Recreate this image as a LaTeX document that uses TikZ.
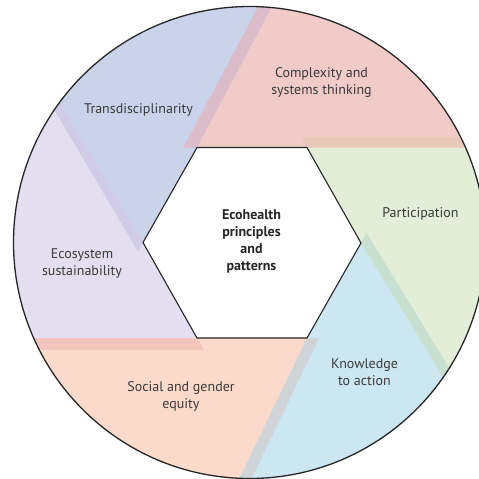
\documentclass[tikz,border=0pt]{standalone}
\usepackage{fontspec}
\setmainfont{PT Sans}
\usetikzlibrary{calc}

% sector colours
\definecolor{cxpink}{HTML}{F0CBC8}
\definecolor{partgreen}{HTML}{E2EED8}
\definecolor{knowblue}{HTML}{CDE7F2}
\definecolor{socpeach}{HTML}{FBDACB}
\definecolor{ecolav}{HTML}{E4DFF0}
\definecolor{transblue}{HTML}{C9D3EA}
% overlap strips
\definecolor{stripA}{HTML}{E8C8B9}
\definecolor{stripB}{HTML}{C8E0CF}
\definecolor{stripC}{HTML}{CFD4D8}
\definecolor{stripD}{HTML}{F2C6BC}
\definecolor{stripE}{HTML}{D0CCE7}
\definecolor{stripF}{HTML}{DCBCC8}
\definecolor{labelgrey}{HTML}{3A3A3A}

\begin{document}
\begin{tikzpicture}[x=0.5pt,y=-0.5pt,
  sectorlabel/.style={font=\fontsize{7}{8.5}\selectfont, text=labelgrey, align=center, inner sep=0pt},
  centrelabel/.style={font=\bfseries\fontsize{7}{8.4}\selectfont, text=black!85, align=center, inner sep=0pt},
  outline/.style={draw=black!85, line width=0.55pt}]
\useasboundingbox (0,0) rectangle (479,479);

% hexagon corners
\coordinate (TL) at (197,147.5);
\coordinate (TR) at (307,147.5);
\coordinate (R)  at (361,243);
\coordinate (BR) at (307,338);
\coordinate (BL) at (197,338);
\coordinate (L)  at (143,242.5);
\coordinate (O)  at (249.5,242.5);

% far ends of the dividing lines
\coordinate (Afar) at (607,147.5);
\coordinate (Bfar) at (517.8,498.8);
\coordinate (Cfar) at (176.9,608.3);
\coordinate (Dfar) at (-103,338);
\coordinate (Efar) at (-9.3,-16);
\coordinate (Ffar) at (337.8,-117.4);

\begin{scope}
  \clip (O) circle [radius=118pt];
  % sectors
  \fill[cxpink]    (TL) -- (Ffar) -- (549.5,-277.1) -- (Afar) -- (TR) -- cycle;
  \fill[partgreen] (TR) -- (Afar) -- (840.4,346.7) -- (Bfar) -- (R) -- cycle;
  \fill[knowblue]  (R) -- (Bfar) -- (549.5,762.1) -- (Cfar) -- (BR) -- cycle;
  \fill[socpeach]  (BR) -- (Cfar) -- (-50.5,762.1) -- (Dfar) -- (BL) -- cycle;
  \fill[ecolav]    (BL) -- (Dfar) -- (-341.4,138.3) -- (Efar) -- (L) -- cycle;
  \fill[transblue] (L) -- (Efar) -- (-50.5,-277.1) -- (Ffar) -- (TL) -- cycle;
  % overlap strips along each dividing line
  \fill[stripA] (TR) -- (Afar) -- (607,137) -- (301.1,137) -- cycle;
  \fill[stripB] (R) -- (Bfar) -- (526.3,493.6) -- (366.6,233.1) -- cycle;
  \fill[stripC] (BR) -- (Cfar) -- (186.8,613.1) -- (319.2,338) -- cycle;
  \fill[stripD] (BL) -- (Dfar) -- (-103,350) -- (203.8,350) -- cycle;
  \fill[stripE] (L) -- (Efar) -- (-17.1,-11.4) -- (137.9,251.5) -- cycle;
  \fill[stripF] (TL) -- (Ffar) -- (327.2,-123.0) -- (183.4,147.5) -- cycle;
\end{scope}

% central hexagon
\filldraw[fill=white, outline] (TL) -- (TR) -- (R) -- (BR) -- (BL) -- (L) -- cycle;
% outer circle
\draw[draw=black!85, line width=0.65pt] (O) circle [radius=118pt];

% labels
\node[centrelabel]  (centre)        at (251.5,241.5) {Ecohealth\\principles\\and\\patterns};
\node[sectorlabel]  (complexity)    at (321.5,82)  {Complexity and\\systems thinking};
\node[sectorlabel]  (participation) at (420.5,213.5) {Participation};
\node[sectorlabel]  (knowledge)     at (364.5,372) {Knowledge\\to action};
\node[sectorlabel]  (social)        at (181,396)   {Social and gender\\equity};
\node[sectorlabel]  (ecosystem)     at (82,264)    {Ecosystem\\sustainability};
\node[sectorlabel]  (trans)         at (138.5,109.5) {Transdisciplinarity};
\end{tikzpicture}
\end{document}
